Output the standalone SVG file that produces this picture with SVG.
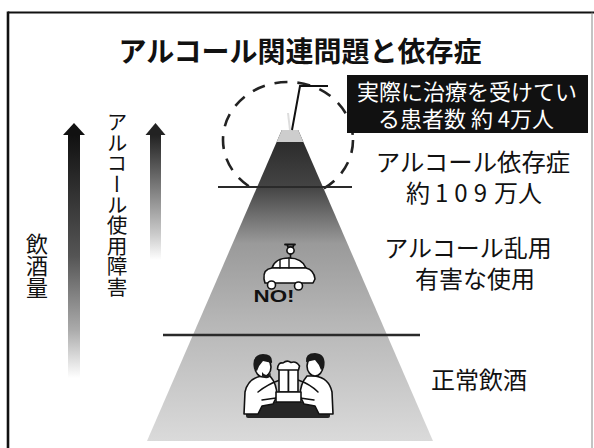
<svg xmlns="http://www.w3.org/2000/svg" width="594" height="448" viewBox="0 0 594 448">
  <defs>
    <style>
      .jp { font-family: "Noto Sans CJK JP", "Noto Sans CJK SC", sans-serif; fill: #111; }
      .lbl { font-size: 24px; text-anchor: middle; }
      .vert { writing-mode: vertical-rl; }
      .ink { fill: none; stroke: #111; stroke-linecap: round; stroke-linejoin: round; }
      .icon { fill: #fff; stroke: #111; stroke-width: 1.6; stroke-linejoin: round; }
    </style>
    <linearGradient id="pyramidFill" gradientUnits="userSpaceOnUse" x1="0" y1="142" x2="0" y2="441">
      <stop offset="0" stop-color="#2c2c2c"/>
      <stop offset="0.15" stop-color="#444"/>
      <stop offset="0.34" stop-color="#9a9a9a"/>
      <stop offset="0.6" stop-color="#b6b6b6"/>
      <stop offset="1" stop-color="#dadada"/>
    </linearGradient>
    <linearGradient id="shaftDark" gradientUnits="userSpaceOnUse" x1="0" y1="135" x2="0" y2="378">
      <stop offset="0" stop-color="#111"/>
      <stop offset="0.5" stop-color="#555"/>
      <stop offset="0.8" stop-color="#aaa"/>
      <stop offset="1" stop-color="#fff"/>
    </linearGradient>
    <linearGradient id="shaftLight" gradientUnits="userSpaceOnUse" x1="0" y1="135" x2="0" y2="260">
      <stop offset="0" stop-color="#222"/>
      <stop offset="0.4" stop-color="#777"/>
      <stop offset="0.8" stop-color="#ccc"/>
      <stop offset="1" stop-color="#fff"/>
    </linearGradient>
  </defs>

  <rect width="594" height="448" fill="#fff"/>

  <!-- outer frame, open at the bottom -->
  <g id="frame">
    <line x1="8" y1="12.5" x2="594" y2="12.5" stroke="#111" stroke-width="2.2"/>
    <line x1="8" y1="11.5" x2="8" y2="448" stroke="#111" stroke-width="2.6"/>
    <line x1="592" y1="12.5" x2="592" y2="448" stroke="#888" stroke-width="1"/>
  </g>

  <g id="title">
    <text class="jp" x="300" y="62" font-size="28" font-weight="700" text-anchor="middle">アルコール関連問題と依存症</text>
  </g>

  <!-- upward arrows on the left -->
  <g id="arrow-drinking">
    <rect x="68" y="134" width="12" height="244" fill="url(#shaftDark)"/>
    <polygon points="74,123 63,135 85,135" fill="#111"/>
    <text class="jp vert" x="37" y="233" font-size="22">飲酒量</text>
  </g>
  <g id="arrow-disorder">
    <rect x="150" y="134" width="11" height="126" fill="url(#shaftLight)"/>
    <polygon points="155.5,123 145.5,135 165.5,135" fill="#222"/>
    <text class="jp vert" x="117" y="112" font-size="20.6">アルコール使用障害</text>
  </g>

  <!-- dashed ring around the tip -->
  <g id="treated-ring">
    <ellipse cx="288" cy="140" rx="65" ry="58" fill="none" stroke="#222" stroke-width="2.6" stroke-dasharray="13 10"/>
  </g>

  <!-- pyramid -->
  <g id="pyramid">
    <line x1="288" y1="113" x2="290" y2="130" stroke="#ddd" stroke-width="2"/>
    <polygon points="281.8,130 298.2,130 433,441 147,441" fill="url(#pyramidFill)"/>
    <polygon points="281.8,130 298.2,130 303.4,142 276.6,142" fill="#cdcdcd"/>
    <line x1="218" y1="187" x2="352" y2="187" stroke="#2a2a2a" stroke-width="2"/>
    <line x1="163" y1="335" x2="420" y2="335" stroke="#2a2a2a" stroke-width="2.5"/>
  </g>

  <!-- drunk driving icon -->
  <g id="icon-car">
    <path class="ink" stroke-width="1.8" d="M285 244.5 L295 244.5 M287 244.5 L288 247 M294 244.5 L293 247"/>
    <circle cx="290.5" cy="250.5" r="3.6" fill="#fff" stroke="#111" stroke-width="1.6"/>
    <path class="ink" stroke-width="1.6" d="M290.5 254 L290.5 258"/>
    <path class="icon" d="M272 268 Q275 258 289 258 Q302 258 306 268 Z"/>
    <path class="icon" d="M264 279 Q263 269 272 268 L306 268 Q314 270 315 279 L313 283 L265 283 Z"/>
    <path class="ink" stroke-width="1.4" d="M280 260 L280 268 M289 258 L289 268"/>
    <circle cx="271.5" cy="285" r="4" class="icon"/>
    <circle cx="298.5" cy="286" r="4" class="icon"/>
    <text x="253.5" y="302" font-family="Liberation Sans, Arial, sans-serif" font-weight="700" font-size="16.5" fill="#111" textLength="41" lengthAdjust="spacingAndGlyphs">NO!</text>
  </g>

  <!-- two people toasting -->
  <g id="icon-toast">
    <rect x="246" y="402" width="84" height="16" rx="2" fill="#262626"/>
    <path class="icon" d="M244 414 L245 392 Q248 378 262 376 L270 376 Q277 384 277 396 L273 404 L262 406 L258 414 Z"/>
    <path class="icon" d="M333 414 L332 392 Q329 378 315 376 L307 376 Q300 384 300 396 L304 404 L315 406 L319 414 Z"/>
    <path class="ink" stroke-width="1.5" d="M258 392 Q268 384 280 380 M318 392 Q310 384 298 380 M262 400 L276 398 M314 400 L300 398"/>
    <ellipse cx="263" cy="367" rx="8" ry="10" class="icon"/>
    <path d="M254 369 Q251 355 263 354 Q273 354 272 363 L263 361 Q259 365 257 371 Z" fill="#1a1a1a"/>
    <path d="M262 372 Q266 378 271 373 L270 377 Q265 380 262 376 Z" fill="#1a1a1a"/>
    <ellipse cx="315" cy="366" rx="8" ry="10" class="icon"/>
    <path d="M324 368 Q327 354 315 353 Q305 353 306 362 L315 360 Q319 364 321 370 Z" fill="#1a1a1a"/>
    <rect x="279" y="367" width="9.5" height="25" class="icon"/>
    <rect x="288.5" y="367" width="9.5" height="25" class="icon"/>
    <path class="icon" d="M277.5 369 Q278 362 283 363 Q287 359.5 291 362.5 Q296 360.5 299.5 366 L298.5 370 L279 370 Z"/>
    <rect x="276" y="392" width="25" height="10" class="icon"/>
  </g>

  <!-- callout for treated patients -->
  <g id="treated-box">
    <rect x="347" y="75" width="241" height="58" fill="#111"/>
    <text class="jp" font-size="22" style="fill:#fff" text-anchor="middle"><tspan x="467" y="100">実際に治療を受けてい</tspan><tspan x="466" y="127">る患者数 約 4万人</tspan></text>
  </g>

  <g id="connectors">
    <polyline points="292,130 300,86 328,86" fill="none" stroke="#111" stroke-width="2"/>
  </g>

  <!-- level labels -->
  <g id="label-dependence">
    <text class="jp" font-size="24.4"><tspan x="473" y="171" text-anchor="middle">アルコール依存症</tspan><tspan x="406" y="201.5" font-size="24" text-anchor="start" dx="0 5 6 6 7 0">約109万人</tspan></text>
  </g>
  <g id="label-abuse">
    <text class="jp lbl"><tspan x="468" y="257">アルコール乱用</tspan><tspan x="475" y="288">有害な使用</tspan></text>
  </g>
  <g id="label-normal">
    <text class="jp lbl" x="479" y="389" font-size="25">正常飲酒</text>
  </g>
</svg>
